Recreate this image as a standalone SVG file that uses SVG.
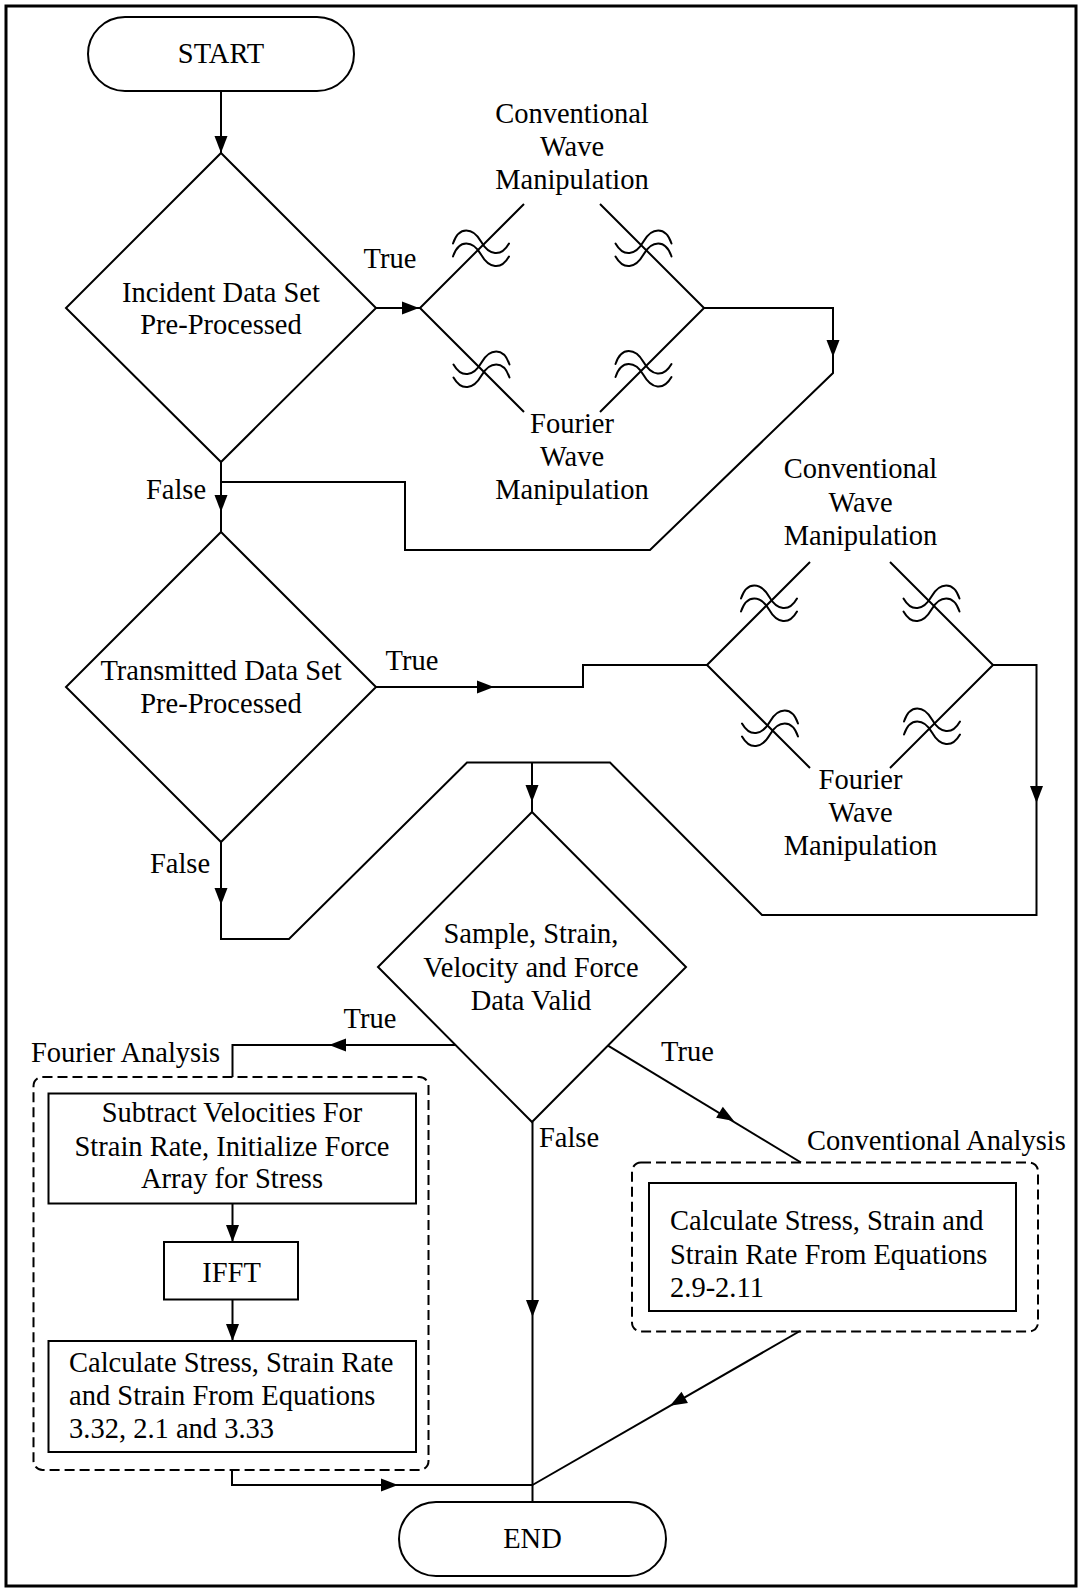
<svg xmlns="http://www.w3.org/2000/svg" xmlns:xlink="http://www.w3.org/1999/xlink" width="1078" height="1588" viewBox="0 0 1078 1588">
  <style>
    .shape { fill: #fff; stroke: #000; stroke-width: 2; }
    .dash { fill: none; stroke: #000; stroke-width: 2; stroke-dasharray: 10 5; }
    .wire { fill: none; stroke: #000; stroke-width: 2; stroke-linejoin: miter; }
    .wave { fill: none; stroke: #000; stroke-width: 2; stroke-linecap: round; }
    text { font-family: "Liberation Serif", "Times New Roman", serif; font-size: 28.5px; fill: #000; }
    .c { text-anchor: middle; }
  </style>
  <defs>
    <path id="ah" d="M0,0 L-17,-6.5 L-17,6.5 Z" fill="#000"/>
    <!-- break mark: two wavy strokes, peak on the left -->
    <g id="waveA" class="wave">
      <path d="M-28,-4.5 C-22,-22.5 -8,-20.5 0,-6.5 S20,9.5 28,-4.5"/>
      <path d="M-28,8.5 C-22,-9.5 -8,-7.5 0,6.5 S20,22.5 28,8.5"/>
    </g>
    <use id="waveB" xlink:href="#waveA" transform="scale(-1,1)"/>
  </defs>

  <rect x="6" y="6" width="1070" height="1580" fill="#fff" stroke="#000" stroke-width="3"/>

  <g id="connectors">
    <path class="wire" d="M221,91 V153"/>
    <path class="wire" d="M376,308 H420"/>
    <path class="wire" d="M420,308 L524,204 M600,204 L704,308 M420,308 L524,412 M600,412 L704,308"/>
    <path class="wire" d="M704,308 H833 V373 L650,550 H405 V482 H221"/>
    <path class="wire" d="M221,462 V532"/>
    <path class="wire" d="M376,687 H583 V665 H707"/>
    <path class="wire" d="M707,665 L810,562 M890,562 L993,665 M707,665 L810,768 M890,768 L993,665"/>
    <path class="wire" d="M993,665 H1036.5 V915 H762 L610,762.5 H532"/>
    <path class="wire" d="M221,842 V939 H289 L467,762.5 H532"/>
    <path class="wire" d="M532,762.5 V812"/>
    <path class="wire" d="M455.5,1045 H232.5 V1077"/>
    <path class="wire" d="M232.5,1203.5 V1242"/>
    <path class="wire" d="M232.5,1299.5 V1341"/>
    <path class="wire" d="M232,1470 V1485 H532.5"/>
    <path class="wire" d="M532.5,1122 V1502"/>
    <path class="wire" d="M608,1045.7 L801,1162.5"/>
    <path class="wire" d="M800,1331 L532.5,1485"/>

    <use xlink:href="#ah" transform="translate(221,153) rotate(90)"/>
    <use xlink:href="#ah" transform="translate(419,308)"/>
    <use xlink:href="#ah" transform="translate(833,357) rotate(90)"/>
    <use xlink:href="#ah" transform="translate(221,512) rotate(90)"/>
    <use xlink:href="#ah" transform="translate(494,687)"/>
    <use xlink:href="#ah" transform="translate(1036.5,803) rotate(90)"/>
    <use xlink:href="#ah" transform="translate(221,905) rotate(90)"/>
    <use xlink:href="#ah" transform="translate(532,802) rotate(90)"/>
    <use xlink:href="#ah" transform="translate(329,1045) rotate(180)"/>
    <use xlink:href="#ah" transform="translate(232.5,1242) rotate(90)"/>
    <use xlink:href="#ah" transform="translate(232.5,1341) rotate(90)"/>
    <use xlink:href="#ah" transform="translate(398,1485)"/>
    <use xlink:href="#ah" transform="translate(532.5,1317) rotate(90)"/>
    <use xlink:href="#ah" transform="translate(734,1121) rotate(31.2)"/>
    <use xlink:href="#ah" transform="translate(670,1405.8) rotate(150.1)"/>

    <!-- break marks on the branch lines -->
    <use xlink:href="#waveA" transform="translate(481,248)"/>
    <use xlink:href="#waveB" transform="translate(643.5,248)"/>
    <use xlink:href="#waveB" transform="translate(481.5,369)"/>
    <use xlink:href="#waveA" transform="translate(643.5,368.5)"/>
    <use xlink:href="#waveA" transform="translate(769,603)"/>
    <use xlink:href="#waveB" transform="translate(931.5,603)"/>
    <use xlink:href="#waveB" transform="translate(770,728)"/>
    <use xlink:href="#waveA" transform="translate(932,726)"/>

    <text class="c" x="390" y="268">True</text>
    <text class="c" x="176" y="499">False</text>
    <text class="c" x="412" y="670">True</text>
    <text class="c" x="180" y="873">False</text>
    <text class="c" x="370" y="1028">True</text>
    <text class="c" x="687.5" y="1061">True</text>
    <text class="c" x="569" y="1147">False</text>
  </g>

  <g id="start">
    <rect class="shape" x="88" y="17" width="266" height="74" rx="37"/>
    <text class="c" x="221" y="63">START</text>
  </g>

  <g id="incident">
    <path class="shape" d="M221,153 L376,308 L221,462 L66,308 Z"/>
    <text class="c" x="221" y="302">Incident Data Set</text>
    <text class="c" x="221" y="334">Pre-Processed</text>
  </g>

  <g id="incident-conventional">
    <text class="c" x="572" y="123">Conventional</text>
    <text class="c" x="572" y="156">Wave</text>
    <text class="c" x="572" y="189">Manipulation</text>
  </g>

  <g id="incident-fourier">
    <text class="c" x="572" y="433">Fourier</text>
    <text class="c" x="572" y="466">Wave</text>
    <text class="c" x="572" y="499">Manipulation</text>
  </g>

  <g id="transmitted">
    <path class="shape" d="M221,532 L376,687 L221,842 L66,687 Z"/>
    <text class="c" x="221" y="680">Transmitted Data Set</text>
    <text class="c" x="221" y="713">Pre-Processed</text>
  </g>

  <g id="transmitted-conventional">
    <text class="c" x="860.5" y="478">Conventional</text>
    <text class="c" x="860.5" y="512">Wave</text>
    <text class="c" x="860.5" y="545">Manipulation</text>
  </g>

  <g id="transmitted-fourier">
    <text class="c" x="860.5" y="789">Fourier</text>
    <text class="c" x="860.5" y="822">Wave</text>
    <text class="c" x="860.5" y="855">Manipulation</text>
  </g>

  <g id="valid">
    <path class="shape" d="M532,812 L686,967 L532,1122 L378,967 Z"/>
    <text class="c" x="531" y="943">Sample, Strain,</text>
    <text class="c" x="531" y="977">Velocity and Force</text>
    <text class="c" x="531" y="1010">Data Valid</text>
  </g>

  <g id="fourier-analysis">
    <text x="31" y="1062">Fourier Analysis</text>
    <rect class="dash" x="33.5" y="1077" width="395" height="393" rx="9"/>
  </g>

  <g id="subtract">
    <rect class="shape" x="48.5" y="1093.5" width="367.5" height="110"/>
    <text class="c" x="232" y="1122">Subtract Velocities For</text>
    <text class="c" x="232" y="1156">Strain Rate, Initialize Force</text>
    <text class="c" x="232" y="1188">Array for Stress</text>
  </g>

  <g id="ifft">
    <rect class="shape" x="164" y="1242" width="134" height="57.5"/>
    <text class="c" x="231.5" y="1282">IFFT</text>
  </g>

  <g id="fourier-calc">
    <rect class="shape" x="48.5" y="1341" width="367.5" height="111"/>
    <text x="69" y="1372">Calculate Stress, Strain Rate</text>
    <text x="69" y="1405">and Strain From Equations</text>
    <text x="69" y="1438">3.32, 2.1 and 3.33</text>
  </g>

  <g id="conventional-analysis">
    <text x="807" y="1150">Conventional Analysis</text>
    <rect class="dash" x="632" y="1162.5" width="406" height="169" rx="9"/>
  </g>

  <g id="conventional-calc">
    <rect class="shape" x="649" y="1183" width="367" height="128"/>
    <text x="670" y="1230">Calculate Stress, Strain and</text>
    <text x="670" y="1264">Strain Rate From Equations</text>
    <text x="670" y="1297">2.9-2.11</text>
  </g>

  <g id="end">
    <rect class="shape" x="399" y="1502" width="267" height="74" rx="37"/>
    <text class="c" x="532.5" y="1548">END</text>
  </g>
</svg>
